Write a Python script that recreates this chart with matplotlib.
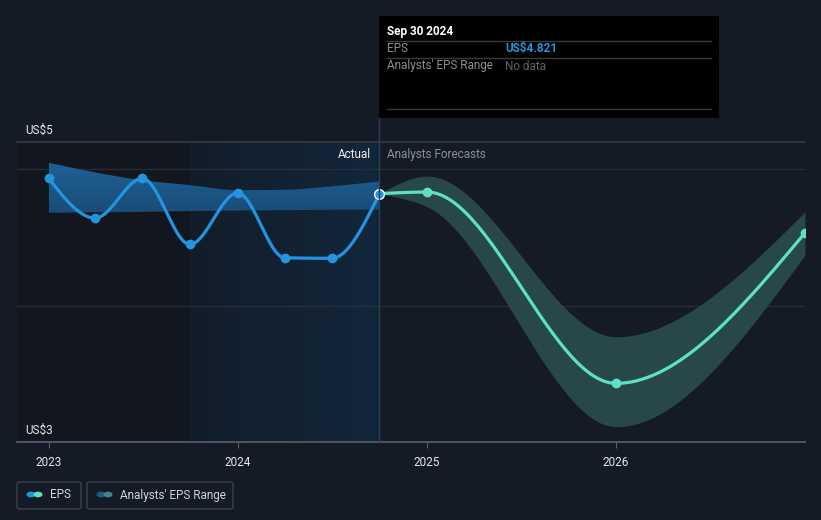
import numpy as np
import matplotlib
matplotlib.use('Agg')
import matplotlib.pyplot as plt
from matplotlib.patches import Rectangle, FancyBboxPatch, Circle
from matplotlib.lines import Line2D

plt.rcParams['font.family'] = ['Roboto', 'DejaVu Sans']

# ---- data ----
actual_x = [2022.997, 2023.244, 2023.493, 2023.745, 2023.997, 2024.246, 2024.496, 2024.748]
actual_eps = [4.935, 4.642, 4.933, 4.449, 4.826, 4.351, 4.347, 4.821]
past_band_x = [2022.997, 2023.493, 2023.745, 2023.997, 2024.246, 2024.496, 2024.748]
past_hi = [5.048, 4.92, 4.884, 4.847, 4.85, 4.875, 4.911]
past_lo = [4.681, 4.688, 4.693, 4.697, 4.700, 4.703, 4.706]
forecast_x = [2024.748, 2025.0, 2026.0, 2027.0]
forecast_eps = [4.821, 4.833, 3.43, 4.534]
forecast_hi = [4.821, 4.95, 3.772, 4.688]
forecast_lo = [4.821, 4.725, 3.112, 4.371]
year_ticks = [2023, 2024, 2025, 2026]
year_labels = ['2023', '2024', '2025', '2026']
y_labels = {5: 'US$5', 3: 'US$3'}


def monotone(x, y, n=60):
    x = np.asarray(x, float); y = np.asarray(y, float)
    h = np.diff(x); s = np.diff(y) / h
    m = np.zeros(len(x))
    for i in range(1, len(x) - 1):
        h0, h1, s0, s1 = h[i-1], h[i], s[i-1], s[i]
        p = (s0 * h1 + s1 * h0) / (h0 + h1)
        m[i] = (np.sign(s0) + np.sign(s1)) * min(abs(s0), abs(s1), 0.5 * abs(p))
    if len(x) > 2:
        m[0] = (3 * s[0] - m[1]) / 2
        m[-1] = (3 * s[-1] - m[-2]) / 2
    else:
        m[:] = s[0]
    xs, ys = [], []
    for i in range(len(x) - 1):
        t = np.linspace(0, 1, n)
        h00 = 2*t**3 - 3*t**2 + 1; h10 = t**3 - 2*t**2 + t
        h01 = -2*t**3 + 3*t**2; h11 = t**3 - t**2
        xs.append(x[i] + t * h[i])
        ys.append(h00*y[i] + h10*h[i]*m[i] + h01*y[i+1] + h11*h[i]*m[i+1])
    return np.concatenate(xs), np.concatenate(ys)


W, H = 821, 520
fig = plt.figure(figsize=(8.21, 5.2), dpi=100)
BG = '#151b26'
fig.patch.set_facecolor(BG)

def fx(px): return px / W
def fy(py): return 1 - py / H

ax = fig.add_axes([fx(17), fy(442), fx(805) - fx(17), fy(142) - fy(442)])
ax.set_facecolor(BG)
ax.set_xlim(2022.83, 2027.0)
ax.set_ylim(3, 5.2)
for sp in ax.spines.values():
    sp.set_visible(False)

# shaded regions
ax.axvspan(2022.83, actual_x[3], color='#12161e', zorder=0, lw=0)
grad = np.linspace(0, 1, 256).reshape(1, -1)
from matplotlib.colors import LinearSegmentedColormap
cm = LinearSegmentedColormap.from_list('hl', ['#131d2a', '#12273b'])
ax.imshow(grad, cmap=cm, extent=[actual_x[3], actual_x[-1], 3, 5.2], aspect='auto', zorder=0.5)

# grid lines
for v in [4, 5]:
    ax.axhline(v, color='#272d38', lw=1, zorder=1)
ax.axhline(5.2, color='#363b46', lw=1.2, zorder=1, clip_on=False)
ax.axhline(3, color='#5a5f68', lw=1.2, zorder=4, clip_on=False)

# past analyst band with vertical gradient
bx, bhi = monotone(past_band_x, past_hi)
_, blo = monotone(past_band_x, past_lo)
poly = ax.fill_between(bx, blo, bhi, facecolor='none', lw=0, zorder=2)
gv = np.linspace(0, 1, 256).reshape(-1, 1)
cm2 = LinearSegmentedColormap.from_list('bd', ['#1a4c77', '#1e6196'])
im = ax.imshow(gv, cmap=cm2, origin='lower', extent=[actual_x[0], actual_x[-1], 4.68, 5.05],
               aspect='auto', zorder=2)
im.set_clip_path(poly.get_paths()[0], transform=ax.transData)

# forecast band
fxs, fhi = monotone(forecast_x, forecast_hi)
_, flo = monotone(forecast_x, forecast_lo)
ax.fill_between(fxs, flo, fhi, color='#2a4a4c', lw=0, zorder=2, alpha=0.95)

# actual line
ax_x, ax_y = monotone(actual_x, actual_eps)
ax.plot(ax_x, ax_y, color='#2394df', lw=2.3, zorder=3, solid_capstyle='round')
ax.plot(actual_x[:-1], actual_eps[:-1], 'o', color='#2394df', ms=6, zorder=4)

# forecast line
fl_x, fl_y = monotone(forecast_x, forecast_eps)
ax.plot(fl_x, fl_y, color='#5ee0c8', lw=2.3, zorder=3)
ax.plot(forecast_x[1:], forecast_eps[1:], 'o', color='#5ee0c8', ms=6, zorder=4)
ax.plot([actual_x[-1]], [actual_eps[-1]], 'o', color='#2394df', mec='white', mew=1.0, ms=7, zorder=5)

# ticks
ax.set_xticks(year_ticks)
ax.set_xticklabels(year_labels, color='#e6e6e6', fontsize=8.5)
ax.tick_params(axis='x', length=4, color='#5a5f68', pad=6)
ax.set_yticks([])

for v, lab in y_labels.items():
    ax.text(fx(25) - fx(17), 0, lab, transform=ax.transAxes, alpha=0)
fig.text(fx(25), fy(130), 'US$5', color='#e6e6e6', fontsize=8.5, va='center', ha='left')
fig.text(fx(25), fy(430), 'US$3', color='#e6e6e6', fontsize=8.5, va='center', ha='left')

# Actual / forecast labels
fig.text(fx(371), fy(154), 'Actual', color='#f0f0f0', fontsize=8.5, va='center', ha='right')
fig.text(fx(387), fy(154), 'Analysts Forecasts', color='#8a8f98', fontsize=8.5, va='center', ha='left')

# vertical marker line
fig.add_artist(Line2D([fx(379), fx(379)], [fy(442), fy(118)], color='#2b3f56', lw=1, zorder=3))

# tooltip
fig.add_artist(Rectangle((fx(379), fy(118)), fx(719) - fx(379), fy(16) - fy(118),
                         facecolor='#000000', edgecolor='none', zorder=5))
for yy in [41, 58, 109]:
    fig.add_artist(Line2D([fx(387), fx(711)], [fy(yy), fy(yy)], color='#3a3a3a', lw=1, zorder=6))
fig.text(fx(387), fy(31), 'Sep 30 2024', color='#ffffff', fontsize=8.5, fontweight='bold', va='center', zorder=7)
fig.text(fx(387), fy(48.5), 'EPS', color='#8a8f98', fontsize=8.5, va='center', zorder=7)
fig.text(fx(505), fy(48.5), 'US$4.821', color='#2394df', fontsize=8.5, fontweight='bold', va='center', zorder=7)
fig.text(fx(387), fy(66), "Analysts' EPS Range", color='#8a8f98', fontsize=8.5, va='center', zorder=7)
fig.text(fx(505), fy(66), 'No data', color='#5f646c', fontsize=8.5, va='center', zorder=7)

# legend
def legend_box(x0, x1, c1, c2, label, cx1, cx2, tx):
    fig.add_artist(FancyBboxPatch((fx(x0), fy(509)), fx(x1) - fx(x0), fy(482) - fy(509),
                                  boxstyle='round,pad=0,rounding_size=0.004',
                                  facecolor='none', edgecolor='#3d424c', lw=1))
    r = 4.5
    fig.add_artist(Circle((fx(cx1), fy(494.5)), radius=r / W, facecolor=c1, edgecolor='none',
                          transform=fig.transFigure))
    fig.add_artist(Circle((fx(cx2), fy(494.5)), radius=r / W, facecolor=c2, edgecolor='none',
                          transform=fig.transFigure))
    fig.text(fx(tx), fy(495), label, color='#d0d3d8', fontsize=8.5, va='center', ha='left')

legend_box(17, 81, '#2394df', '#5ee0c8', 'EPS', 31, 38, 50)
legend_box(87, 233, '#1c5a8a', '#3d8a80', "Analysts' EPS Range", 101, 108, 120)

fig.savefig('out.png', dpi=100, facecolor=BG)
